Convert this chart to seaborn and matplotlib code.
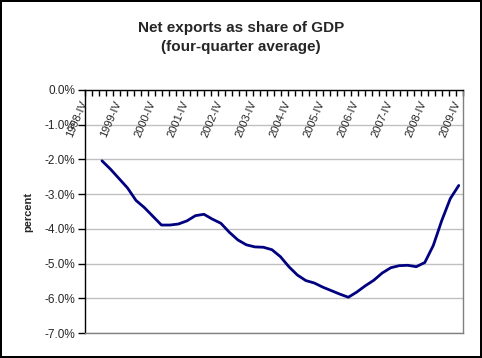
import seaborn as sns
import numpy as np
import matplotlib.pyplot as plt
import pandas as pd

# ticks label years (fourth quarter of each year)
years = list(range(1998, 2010))
labels = [f"{y}-IV" for y in years]

# quarter index, 0 = 1998-IV ; data runs 1999-II .. 2009-IV
quarter = list(range(2, 45))
net_exports = [-2.04, -2.28, -2.55, -2.82, -3.18, -3.39, -3.64, -3.89, -3.89, -3.86,
               -3.77, -3.62, -3.58, -3.72, -3.84, -4.10, -4.32, -4.46, -4.52, -4.53,
               -4.60, -4.80, -5.09, -5.33, -5.49, -5.56, -5.68, -5.78, -5.88, -5.97,
               -5.82, -5.64, -5.48, -5.27, -5.12, -5.06, -5.05, -5.09, -4.97, -4.48,
               -3.76, -3.13, -2.75]

df = pd.DataFrame({"q": quarter, "val": net_exports})

sns.set_style("white")
plt.rcParams['font.family'] = ['Liberation Sans', 'DejaVu Sans']

fig = plt.figure(figsize=(4.82, 3.58), dpi=100, edgecolor="black", linewidth=1.5)
ax = fig.add_axes([85/482, 1-333/358, 378/482, 243/358])

sns.lineplot(data=df, x="q", y="val", color="#000080", linewidth=2, ax=ax)

xmin, xmax = 0, 44.5
ax.set_xlim(xmin, xmax)
ax.set_ylim(-7, 0)

# y axis
yt = np.arange(-7, 1, 1)
ax.set_yticks(yt)
ax.set_yticklabels([f"{abs(v):.1f}%" if v == 0 else f"{v:.1f}%" for v in yt], fontsize=8.5)
ax.tick_params(axis="y", direction="out", length=5, width=1, color="black", pad=2, left=True)
ax.grid(axis="y", color="#c0c0c0", linewidth=1)
ax.set_ylabel("percent", fontsize=8, fontweight="bold")
ax.yaxis.set_label_coords(-0.138, 0.5)

# category axis across the top (at 0%)
ax.set_xticks(np.linspace(xmin, xmax, 55))
ax.set_xticklabels([])
ax.tick_params(axis="x", top=True, bottom=False, direction="in", length=4, width=1, color="black")
ax.set_xlabel("")
ax.xaxis.set_ticks_position("top")
ax.tick_params(axis="x", labeltop=False, labelbottom=False)
for y, lab in zip(years, labels):
    ax.annotate(lab, xy=(4*(y-1998), 1), xycoords=ax.get_xaxis_transform(),
                xytext=(4, -9), textcoords="offset pixels", rotation=67,
                ha="right", va="top", fontsize=8)

for s in ["left", "top"]:
    ax.spines[s].set_color("black")
    ax.spines[s].set_linewidth(1)
for s in ["right", "bottom"]:
    ax.spines[s].set_color("#808080")
    ax.spines[s].set_linewidth(1)

fig.suptitle("Net exports as share of GDP\n(four-quarter average)", y=0.94, fontsize=11,
             fontweight="bold", va="top", linespacing=1.4)

plt.savefig("out.png", dpi=100, edgecolor="black")
